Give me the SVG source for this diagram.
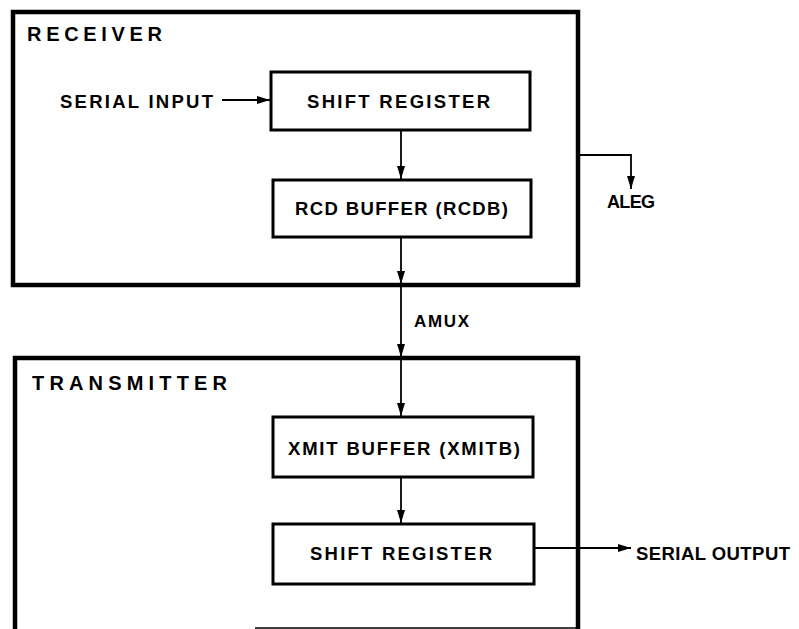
<svg xmlns="http://www.w3.org/2000/svg" width="799" height="629" viewBox="0 0 799 629">
<style>
.outer{fill:none;stroke:#000;stroke-width:4.5}
.box{fill:#fff;stroke:#000;stroke-width:3}
.wire{fill:none;stroke:#000;stroke-width:1.8}
text{font-family:"Liberation Sans",Arial,sans-serif;font-weight:bold;fill:#000}
</style>
<defs>
<marker id="arr" markerUnits="userSpaceOnUse" markerWidth="14" markerHeight="10" refX="13" refY="5" orient="auto">
<path d="M0,1 L13,5 L0,9 Z" fill="#000"/>
</marker>
</defs>
<rect width="799" height="629" fill="#fff"/>
<g id="receiver">
<rect class="outer" x="13" y="12" width="565" height="273"/>
<text x="27" y="41" font-size="20" textLength="135" lengthAdjust="spacing">RECEIVER</text>
</g>
<g id="transmitter">
<path class="outer" d="M15,632 V358 H578 V632"/>
<line x1="255" y1="628" x2="578" y2="628" stroke="#000" stroke-width="1.5"/>
<text x="32" y="390" font-size="20" textLength="195" lengthAdjust="spacing">TRANSMITTER</text>
</g>
<g id="shift-register-rx">
<rect class="box" x="271" y="72" width="259" height="58"/>
<text x="307" y="108" font-size="18.5" textLength="183" lengthAdjust="spacing">SHIFT REGISTER</text>
</g>
<g id="rcd-buffer">
<rect class="box" x="273" y="180" width="258" height="57"/>
<text x="295" y="215" font-size="18.5" textLength="213" lengthAdjust="spacing">RCD BUFFER (RCDB)</text>
</g>
<g id="xmit-buffer">
<rect class="box" x="273" y="417" width="260" height="60"/>
<text x="288" y="455" font-size="18.5" textLength="232" lengthAdjust="spacing">XMIT BUFFER (XMITB)</text>
</g>
<g id="shift-register-tx">
<rect class="box" x="273" y="524" width="261" height="60"/>
<text x="310" y="560" font-size="18.5" textLength="182" lengthAdjust="spacing">SHIFT REGISTER</text>
</g>
<g id="labels">
<text x="60" y="108" font-size="18.5" textLength="153" lengthAdjust="spacing">SERIAL INPUT</text>
<text x="607" y="208" font-size="18" textLength="48" lengthAdjust="spacing">ALEG</text>
<text x="414" y="327" font-size="17" textLength="55" lengthAdjust="spacing">AMUX</text>
<text x="636" y="560" font-size="18.5" textLength="154" lengthAdjust="spacing">SERIAL OUTPUT</text>
</g>
<g id="connectors">
<line class="wire" x1="222" y1="100" x2="270" y2="100" marker-end="url(#arr)"/>
<line class="wire" x1="401" y1="131" x2="401" y2="179" marker-end="url(#arr)"/>
<line class="wire" x1="401" y1="238" x2="401" y2="284" marker-end="url(#arr)"/>
<line class="wire" x1="401" y1="284" x2="401" y2="357" marker-end="url(#arr)"/>
<line class="wire" x1="401" y1="357" x2="401" y2="416" marker-end="url(#arr)"/>
<line class="wire" x1="401" y1="478" x2="401" y2="523" marker-end="url(#arr)"/>
<polyline class="wire" points="580,155 631,155 631,189" marker-end="url(#arr)"/>
<line class="wire" x1="535" y1="548" x2="631" y2="548" marker-end="url(#arr)"/>
</g>
</svg>
